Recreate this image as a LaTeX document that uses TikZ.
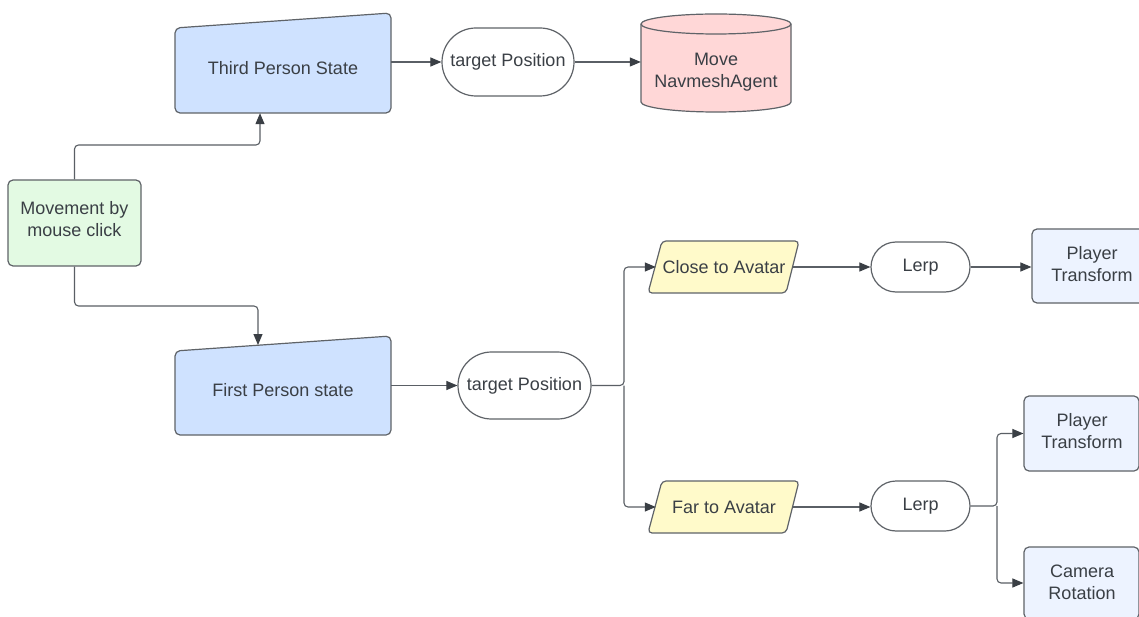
\documentclass[tikz,border=0pt]{standalone}
\usepackage{fontspec}
\setmainfont{Liberation Sans}
\usetikzlibrary{arrows.meta,shapes.misc,calc}
\definecolor{txtc}{HTML}{3A3F45}
\definecolor{bordc}{HTML}{5F6368}
\definecolor{linec}{HTML}{5A5F65}
\definecolor{arrc}{HTML}{3A3F45}
\definecolor{bluef}{HTML}{CFE2FF}
\definecolor{redf}{HTML}{FFD7D7}
\definecolor{greenf}{HTML}{E3FAE3}
\definecolor{yellowf}{HTML}{FFFACA}
\definecolor{paleb}{HTML}{EDF3FF}
\begin{document}
\begin{tikzpicture}[x=1pt,y=-1pt,
  lbl/.style={text=txtc,font=\fontsize{18}{22}\selectfont,align=center,inner sep=0pt},
  boxn/.style={lbl,draw=bordc,line width=1.2pt,rounded corners=5pt},
  pill/.style={lbl,rounded rectangle,draw=bordc,line width=1.2pt,fill=white},
  shp/.style={draw=bordc,line width=1.2pt,rounded corners=5pt},
  conn/.style={draw=linec,line width=1.1pt,rounded corners=4pt,-{Triangle[length=11pt,width=9pt,color=arrc]}}]
\useasboundingbox[fill=white] (0,0) rectangle (1139,617);

% shapes drawn directly
\draw[shp,fill=bluef] (175,113) -- (391,113) -- (391,13) -- (175,28) -- cycle;
\draw[shp,fill=bluef] (175,435) -- (391,435) -- (391,336) -- (175,351) -- cycle;
\draw[shp,rounded corners=4pt,fill=yellowf] (648,293) -- (662,241) -- (799,241) -- (786,293) -- cycle;
\draw[shp,rounded corners=4pt,fill=yellowf] (648,533) -- (662,481) -- (799,481) -- (786,533) -- cycle;
% cylinder
\fill[redf] (641,24) -- (641,102) arc[start angle=180,end angle=0,x radius=75,y radius=10] -- (791,24) arc[start angle=0,end angle=-180,x radius=75,y radius=10] -- cycle;
\draw[bordc,line width=1.2pt] (641,24) -- (641,102) arc[start angle=180,end angle=0,x radius=75,y radius=10] -- (791,24) arc[start angle=0,end angle=-180,x radius=75,y radius=10] -- cycle;
\draw[bordc,line width=1.2pt] (641,24) arc[start angle=180,end angle=0,x radius=75,y radius=10];

% nodes
\node[lbl,minimum width=216pt,minimum height=90pt] (third) at (283,68) {Third Person State};
\node[lbl,minimum width=216pt,minimum height=90pt] (first) at (283,390) {First Person state};
\node[boxn,fill=greenf,minimum width=133pt,minimum height=86pt] (move) at (74.5,223) {};
\node[lbl] at (74.5,219) {Movement by\\mouse click};
\node[pill,minimum width=132pt,minimum height=68pt] (tposA) at (508,62) {target Position};
\node[lbl,minimum width=150pt,minimum height=98pt] (cyl) at (716,72) {Move\\NavmeshAgent};
\node[pill,minimum width=133pt,minimum height=67pt] (tposB) at (524.5,385.5) {target Position};
\node[lbl,minimum width=136pt,minimum height=52pt] (close) at (724,267) {Close to Avatar};
\node[lbl,minimum width=136pt,minimum height=52pt] (far) at (724,507) {Far to Avatar};
\node[pill,minimum width=99pt,minimum height=50pt] (lerpA) at (920.5,267) {Lerp};
\node[pill,minimum width=99pt,minimum height=50pt] (lerpB) at (920.5,506) {Lerp};
\node[boxn,fill=paleb,minimum width=120pt,minimum height=74pt] (ptA) at (1092,266) {};
\node[lbl] at (1092,264) {Player\\Transform};
\node[boxn,fill=paleb,minimum width=115pt,minimum height=75pt] (ptB) at (1081.5,433.5) {};
\node[lbl] at (1082,431.5) {Player\\Transform};
\node[boxn,fill=paleb,minimum width=115pt,minimum height=72pt] (cam) at (1081.5,583) {};
\node[lbl] at (1082,582) {Camera\\Rotation};

% junction coordinates
\coordinate (j1) at (260,145);
\coordinate (j2) at (258,306);
\coordinate (fptop) at (258,345);
\coordinate (b1) at (624,385.5);
\coordinate (b2) at (997,506);

% connectors
\draw[conn] (move.north) |- (j1) -- (j1 |- third.south);
\draw[conn] (move.south) |- (j2) -- (fptop);
\draw[conn] (tposA.west -| third.east) -- (tposA.west);
\draw[conn] (tposA.east) -- (tposA.east -| cyl.west);
\draw[conn] (tposB.west -| first.east) -- (tposB.west);
\draw[conn] (tposB.east) -- (b1) |- (close.west);
\draw[conn] (b1) |- (far.west);
\draw[conn] (close.east) -- (lerpA.west);
\draw[conn] (lerpA.east) -- (lerpA.east -| ptA.west);
\draw[conn] (far.east) -- (far.east -| lerpB.west);
\draw[conn] (lerpB.east) -- (b2) |- (ptB.west);
\draw[conn] (b2) |- (cam.west);
\end{tikzpicture}
\end{document}
